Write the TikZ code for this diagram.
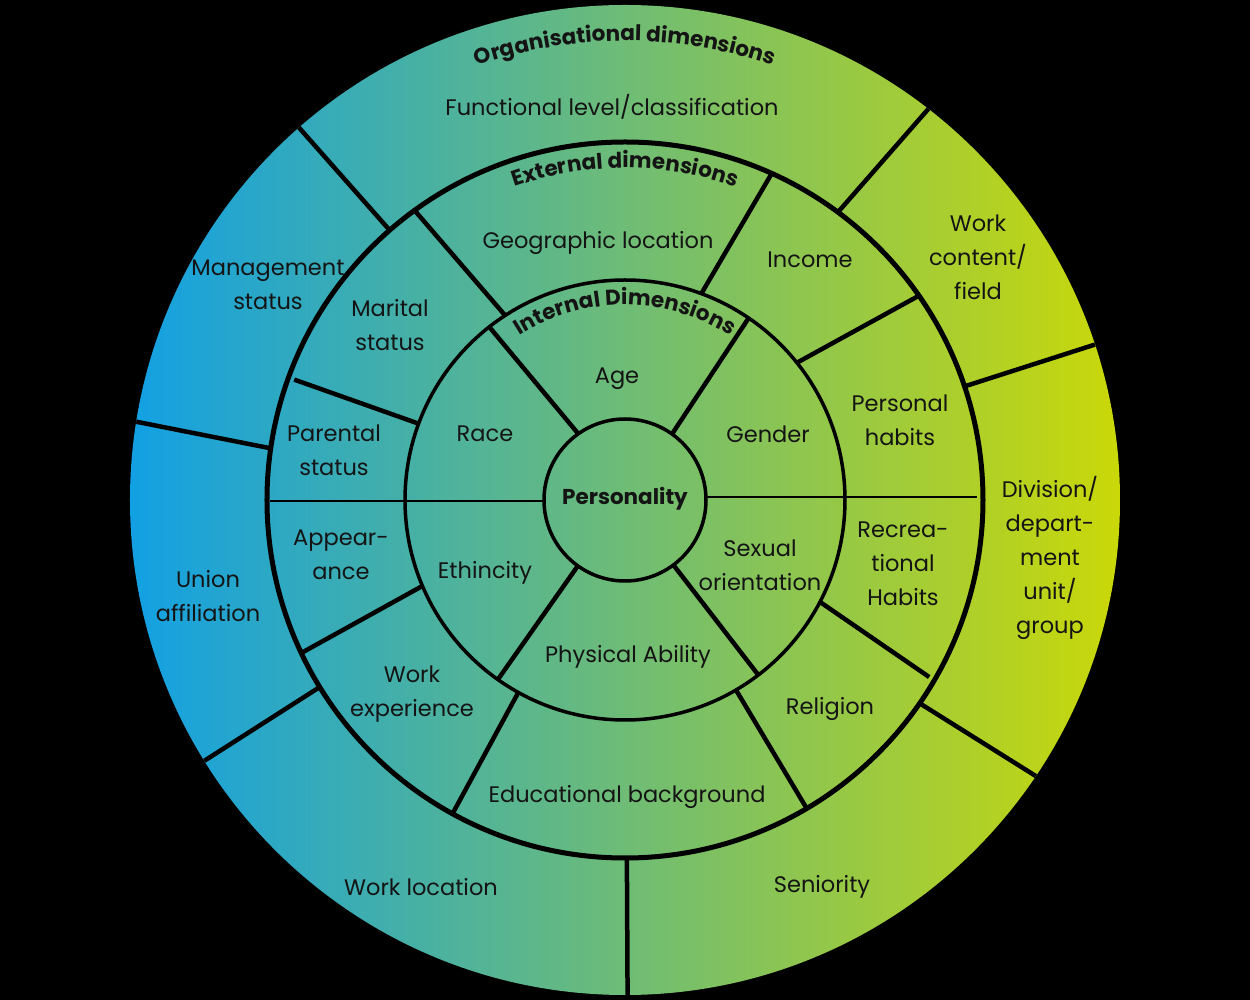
\documentclass[tikz,border=0pt]{standalone}
\usepackage{fontspec}
\setmainfont{Poppins}
\usetikzlibrary{decorations.text}
\definecolor{cblue}{RGB}{18,160,228}
\definecolor{cmid}{RGB}{95,186,122}
\definecolor{cyel}{RGB}{202,216,8}
\definecolor{ink}{RGB}{20,20,20}
\newcommand{\lblfont}{\fontsize{22.5}{34}\selectfont}
\newcommand{\hdfont}{\bfseries\fontsize{21.5}{26}\selectfont}
\begin{document}
\begin{tikzpicture}[x=1pt,y=1pt,
  lbl/.style={text=ink, font=\lblfont, align=center, inner sep=0pt},
  hd/.style={text=ink, font=\hdfont, align=center, inner sep=0pt},
  bigring/.style={draw=black, line width=5pt},
  smallring/.style={draw=black, line width=3.5pt},
  divider/.style={draw=black, line width=4.5pt},
  thinline/.style={draw=black, line width=2.7pt},
  curved/.style={decorate, decoration={text along path, text align=center, text={#1}}}
]
\useasboundingbox (-625,-500) rectangle (625,500);
\fill[black] (-625,-500) rectangle (625,500);
% disc with gradient
\shade[left color=cblue, middle color=cmid, right color=cyel] (0,0) circle[radius=495pt];
% rings
\draw[bigring] (0,0) circle[radius=358pt];
\draw[smallring] (0,0) circle[radius=220pt];
\draw[smallring] (0,0) circle[radius=81pt];
% inner ring dividers
\draw[divider] (125.2:81pt) -- (128.1:220pt);
\draw[divider] (54.5:81pt) -- (55.8:220pt);
\draw[divider] (234.4:81pt) -- (234.7:220pt);
\draw[divider] (306.7:81pt) -- (307.3:220pt);
\draw[thinline] (-355,-1) -- (-82,-1);
\draw[thinline] (82,3) -- (352,3);
% middle ring dividers
\draw[divider] (123:220pt) -- (126:358pt);
\draw[divider] (69.7:220pt) -- (65.8:358pt);
\draw[divider] (38.6:220pt) -- (34.8:358pt);
\draw[divider] (159.7:220pt) -- (160:352pt);
\draw[divider] (203:220pt) -- (205.3:358pt);
\draw[divider] (241:220pt) -- (241.2:358pt);
\draw[divider] (300.3:220pt) -- (300.5:358pt);
\draw[divider] (332.4:220pt) -- (329.8:352pt);
% outer ring dividers
\draw[divider] (131.1:358pt) -- (131.2:495pt);
\draw[divider] (53.5:358pt) -- (52.2:495pt);
\draw[divider] (18.5:358pt) -- (18.3:495pt);
\draw[divider] (325.4:358pt) -- (326.1:495pt);
\draw[divider] (270.3:358pt) -- (270.3:495pt);
\draw[divider] (211.5:358pt) -- (211.8:495pt);
\draw[divider] (171.7:358pt) -- (170.9:495pt);
% curved headings
\path[curved={|\hdfont\color{ink}|Organisational dimensions}] (160:459pt) arc[start angle=160, end angle=20, radius=459pt];
\path[curved={|\hdfont\color{ink}|External dimensions}] (160:332pt) arc[start angle=160, end angle=20, radius=332pt];
\path[curved={|\hdfont\color{ink}|Internal Dimensions}] (160:195pt) arc[start angle=160, end angle=20, radius=195pt];
% centre
\node[hd] (pers) at (0,1) {Personality};
% internal dimensions
\node[lbl] (age) at (-8,121) {Age};
\node[lbl] (race) at (-140,66) {Race};
\node[lbl] (gender) at (143,66) {Gender};
\node[lbl] (eth) at (-140,-73) {Ethincity};
\node[lbl] (phys) at (3,-157) {Physical Ability};
\node[lbl] (sex) at (135,-65) {Sexual\\orientation};
% external dimensions
\node[lbl] (geo) at (-27,257) {Geographic location};
\node[lbl] (inc) at (185,240) {Income};
\node[lbl] (pershab) at (275,80) {Personal\\habits};
\node[lbl] (rec) at (278,-64) {Recrea-\\tional\\Habits};
\node[lbl] (rel) at (205,-209) {Religion};
\node[lbl] (edu) at (2,-297) {Educational background};
\node[lbl] (workexp) at (-213,-194) {Work\\experience};
\node[lbl] (app) at (-284,-55) {Appear-\\ance};
\node[lbl] (par) at (-291,50) {Parental\\status};
\node[lbl] (mar) at (-235,175) {Marital\\status};
% organisational dimensions
\node[lbl] (func) at (-13,393) {Functional level/classification};
\node[lbl] (wcf) at (353,243) {Work\\content/\\field};
\node[lbl] (div) at (425,-58) {Division/\\depart-\\ment\\unit/\\group};
\node[lbl] (sen) at (197,-387) {Seniority};
\node[lbl] (wloc) at (-204,-387) {Work location};
\node[lbl] (union) at (-417,-96) {Union\\affiliation};
\node[lbl] (mgmt) at (-357,215) {Management\\status};
\end{tikzpicture}
\end{document}
